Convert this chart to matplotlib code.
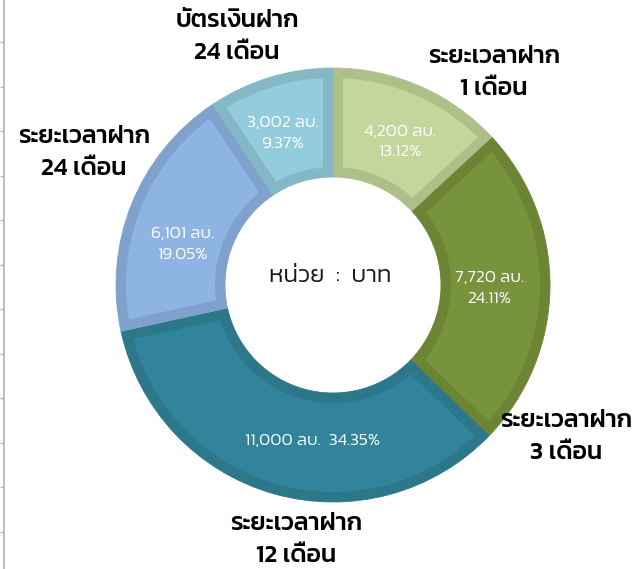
import numpy as np
import matplotlib
matplotlib.use("Agg")
import matplotlib.pyplot as plt
from matplotlib.patches import Polygon

# data (clockwise from 12 o'clock)
categories = ["ระยะเวลาฝาก\n1 เดือน", "ระยะเวลาฝาก\n3 เดือน", "ระยะเวลาฝาก\n12 เดือน",
              "ระยะเวลาฝาก\n24 เดือน", "บัตรเงินฝาก\n24 เดือน"]
amounts = [4200, 7720, 11000, 6101, 3002]
percents = ["13.12%", "24.11%", "34.35%", "19.05%", "9.37%"]
fill_colors = ["#c3d69b", "#77933c", "#31849b", "#8eb4e3", "#93cddd"]
edge_colors = ["#adc08a", "#6b8535", "#2c7789", "#7fa1cc", "#84b8c6"]

W, H = 637, 569
fig = plt.figure(figsize=(W / 100, H / 100), dpi=100)
ax = fig.add_axes([0, 0, 1, 1])

cx, cy = 333, H - 285
r_out, ring = 217, 109
r_in = r_out - ring
border = 10

# darker ring = border colour, lighter inset drawn on top
wedges, _ = ax.pie(amounts, colors=edge_colors, startangle=90, counterclock=False,
                   center=(cx, cy), radius=r_out, frame=True,
                   wedgeprops=dict(width=ring, linewidth=0.6, edgecolor=None))
for w, ec in zip(wedges, edge_colors):
    w.set_edgecolor(ec)

for w, fc in zip(wedges, fill_colors):
    ro, ri = r_out - border, r_in + border
    a_o = np.rad2deg(np.arcsin(border / ro))
    a_i = np.rad2deg(np.arcsin(border / ri))
    t_out = np.deg2rad(np.linspace(w.theta1 + a_o, w.theta2 - a_o, 120))
    t_in = np.deg2rad(np.linspace(w.theta2 - a_i, w.theta1 + a_i, 120))
    pts = np.vstack([np.column_stack([cx + ro * np.cos(t_out), cy + ro * np.sin(t_out)]),
                     np.column_stack([cx + ri * np.cos(t_in), cy + ri * np.sin(t_in)])])
    ax.add_patch(Polygon(pts, closed=True, facecolor=fc, edgecolor="none"))

ax.set_xlim(0, W)
ax.set_ylim(0, H)
ax.set_aspect("equal")
ax.axis("off")

# value labels inside the ring
nudges = [(2, -6), (-6, -2), (24, 0), (0, -20), (-3, -4)]
r_mid = r_out - ring / 2
for w, amt, pct, (dx, dy) in zip(wedges, amounts, percents, nudges):
    a = np.deg2rad((w.theta1 + w.theta2) / 2)
    x = cx + r_mid * np.cos(a) + dx
    y = cy + r_mid * np.sin(a) + dy
    if amt == max(amounts):
        txt = f"{amt:,} ลบ.  {pct}"
    else:
        txt = f"{amt:,} ลบ.\n{pct}"
    ax.text(x, y, txt, ha="center", va="center", color="white", fontsize=12.5,
            family="Kanit", fontweight=300, linespacing=1.6)

# category labels outside the ring
label_pos = [(494, 73), (566, 437), (296, 540), (84, 153), (237, 37)]
for lab, (x, y) in zip(categories, label_pos):
    ax.text(x, H - y, lab, ha="center", va="center", color="black", fontsize=18,
            family="Kanit", fontweight=500, linespacing=1.55)

ax.text(cx - 3, H - 276, "หน่วย  :  บาท", ha="center", va="center", color="#1a1a1a",
        fontsize=17.5, family="Kanit", fontweight=300)

# leftover axis line at the left edge
lax = fig.add_axes([4 / W, 0, 0.001, 1])
lax.set_ylim(H, 0)
lax.set_xticks([])
lax.set_yticks(np.arange(42, H, 44.5))
lax.set_yticklabels([])
lax.tick_params(axis="y", length=3, width=1, color="#b3b3b3", direction="out")
for s in ["top", "right", "bottom"]:
    lax.spines[s].set_visible(False)
lax.spines["left"].set_color("#b3b3b3")
lax.spines["left"].set_linewidth(1.2)
lax.patch.set_visible(False)

fig.savefig("out.png", dpi=100)
